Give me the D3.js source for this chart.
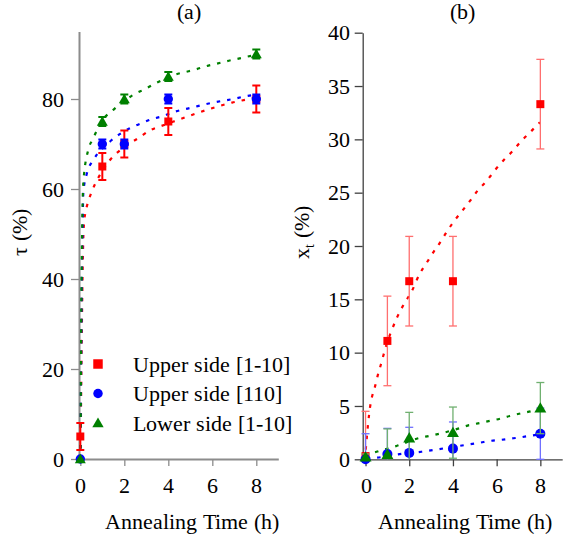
<!DOCTYPE html>
<html>
<head>
<meta charset="utf-8">
<style>
  @font-face { font-family: "RefSerif"; src: local("Liberation Serif"), local("LiberationSerif"), local("LiberationSerif-Regular"), local("Times New Roman"); }
</style>
<script src="https://cdn.jsdelivr.net/npm/d3@7"></script>
</head>
<body style="margin:0">
<script>
var width = 564;
var height = 539;
var serif = "RefSerif, 'Liberation Serif', 'Times New Roman'";

// measured points, annealing time in hours
var times = [0, 1, 2, 4, 8];

// panel (a): tau (%)
var tauRed = [5, 65, 70, 75, 80];
var tauRedErr = [3, 3, 3, 3, 3];
var tauBlue = [0, 70, 70, 80, 80];
var tauBlueErr = [0, 1, 1, 1, 1];
var tauGreen = [0, 75, 80, 85, 90];
var tauGreenErr = [0, 1, 1, 1, 1];

// panel (b): x_t (%)
var xtRed = [0.3, 11.1, 16.7, 16.7, 33.3];
var xtRedErr = [4.2, 4.2, 4.2, 4.2, 4.2];
var xtBlue = [0, 0.5, 0.6, 1.0, 2.4];
var xtBlueErr = [2.4, 2.4, 2.4, 2.5, 2.4];
var xtGreen = [0.2, 0.45, 2.0, 2.5, 4.8];
var xtGreenErr = [0.3, 2.4, 2.4, 2.4, 2.4];

// fit curves, [time, value]
var fitTauRed = [[0.01,0],[0.06,25],[0.1,40],[0.13,48],[0.17,52.5],[0.24,54.9],[0.36,57.2],[0.52,59.4],[1,64],[1.34,66.4],[2,69.3],[2.7,71.5],[3.15,73],[3.68,74],[4.59,75.6],[5.04,76.4],[5.95,77.9],[6.9,79.2],[7.75,80.1],[8,80.4]];
var fitTauBlue = [[0.01,0],[0.05,30],[0.1,50],[0.14,59.4],[0.3,63.5],[0.59,66.4],[1.34,70.5],[2.25,73.5],[2.78,74.6],[3.23,75.5],[3.76,76.2],[4.18,77],[4.63,77.6],[5.09,78.1],[5.57,78.7],[6.02,79.2],[6.47,79.6],[6.95,80],[7.4,80.5],[8,81]];
var fitTauGreen = [[0.01,0],[0.04,30],[0.08,50],[0.14,61.6],[0.36,68.7],[0.56,71],[1.04,75.5],[1.5,77.6],[2.4,80.9],[2.93,82.2],[3.43,83.5],[4.36,85.5],[4.78,86],[5.27,86.6],[5.72,87.3],[6.17,87.8],[6.65,88.4],[7.12,88.9],[7.57,89.4],[8,89.8]];
var fitXtRed = [[0.01,0.9],[0.06,2.1],[0.12,3.4],[0.2,4.8],[0.3,5.9],[0.43,6.8],[0.55,7.8],[0.69,8.8],[0.88,10.2],[1.42,13.2],[1.77,14.6],[2.1,15.7],[2.48,17.4],[2.79,18.4],[3.13,19.5],[3.4,20.3],[3.71,21.3],[4.04,22.3],[4.39,23.2],[4.77,24.2],[5.13,25.2],[5.54,26.1],[5.92,27.1],[6.3,28],[6.73,28.9],[7.11,29.8],[7.55,30.7],[7.98,31.6]];
var fitXtBlue = [[0.05,0.1],[0.5,0.15],[1.49,0.47],[2.56,0.71],[3.32,0.94],[4.28,1.25],[4.74,1.4],[5.23,1.56],[5.69,1.72],[6.15,1.81],[6.6,1.93],[7.09,2.06],[7.55,2.21],[8,2.35]];
var fitXtGreen = [[0.02,0.2],[0.12,0.4],[0.5,0.7],[1.42,1.25],[2.41,1.97],[2.94,2.2],[3.45,2.43],[4.28,2.9],[4.74,3.2],[5.23,3.4],[5.69,3.6],[6.15,3.8],[6.6,4.06],[7.09,4.3],[7.55,4.5],[8,4.75]];

var seriesNames = ["Upper side [1-10]", "Upper side [110]", "Lower side [1-10]"];
var colors = ["#ff0000", "#0000ff", "#008000"];
var lightColors = ["#ff6f6f", "#7070ff", "#70b070"];

var xTicksMajor = [0, 2, 4, 6, 8];
var xTicksMinor = [1, 3, 5, 7, 9];
var tauTicksMajor = [0, 20, 40, 60, 80];
var tauTicksMinor = [10, 30, 50, 70, 90];
var xtTicksMajor = [0, 5, 10, 15, 20, 25, 30, 35, 40];
var xtTicksMinor = [2.5, 7.5, 12.5, 17.5, 22.5, 27.5, 32.5, 37.5];

var svg = d3.select("body").append("svg").attr("width", width).attr("height", height);

var xa = d3.scaleLinear().domain([-0.06, 9]).range([79, 278.3]);
var ya = d3.scaleLinear().domain([0, 95]).range([459, 31.5]);
var xb = d3.scaleLinear().domain([-0.13, 9]).range([362.7, 562.2]);
var yb = d3.scaleLinear().domain([0, 40]).range([459.3, 32.7]);

var addText = function(x, y, str) {
  return svg.append("text").attr("x", x).attr("y", y).attr("font-size", 22)
    .style("font-family", serif).text(str);
};

var drawAxes = function(x, y, yMajor, yMinor, axisColor, axisWidth, yPad) {
  var g = svg.append("g");
  var bx = g.append("g").attr("transform", "translate(0," + y.range()[0] + ")");
  bx.call(d3.axisBottom(x).tickValues(xTicksMinor).tickSize(4.5).tickSizeOuter(0).tickFormat(""));
  bx.call(d3.axisBottom(x).tickValues(xTicksMajor).tickSize(7).tickSizeOuter(0).tickPadding(11.5));
  var ly = g.append("g").attr("transform", "translate(" + x.range()[0] + ",0)");
  ly.call(d3.axisLeft(y).tickValues(yMinor).tickSize(4.5).tickSizeOuter(0).tickFormat(""));
  ly.call(d3.axisLeft(y).tickValues(yMajor).tickSize(8).tickSizeOuter(0).tickPadding(yPad));
  g.selectAll("g").attr("font-family", null);
  g.selectAll("path.domain").attr("stroke", axisColor).attr("stroke-width", axisWidth);
  g.selectAll(".tick line").attr("stroke", axisColor).attr("stroke-width", 1.3);
  g.selectAll(".tick text").attr("font-size", 22).attr("fill", "#000").style("font-family", serif);
};

drawAxes(xa, ya, tauTicksMajor, tauTicksMinor, "#8c8c8c", 2, 7);
drawAxes(xb, yb, xtTicksMajor, xtTicksMinor, "#404040", 1.3, 5);

var drawPanel = function(x, y, fits, vals, errs, sizes, errStyle) {
  var line = d3.line().curve(d3.curveMonotoneX)
    .x(function(d) { return x(d[0]); })
    .y(function(d) { return y(d[1]); });
  fits.forEach(function(f, i) {
    svg.append("path").datum(f).attr("d", line)
      .attr("fill", "none").attr("stroke", colors[i])
      .attr("stroke-width", 2.2).attr("stroke-dasharray", "3.5,7");
  });
  var symbols = [d3.symbolSquare, d3.symbolCircle, d3.symbolTriangle];
  vals.forEach(function(v, i) {
    var pts = times.map(function(t, j) { return {t: t, v: v[j], e: errs[i][j]}; });
    var g = svg.append("g");
    var eb = g.selectAll("g.err").data(pts.filter(function(d) { return d.e > 0; })).enter().append("g")
      .attr("stroke", errStyle.light ? lightColors[i] : colors[i])
      .attr("stroke-width", errStyle.width);
    eb.append("line")
      .attr("x1", function(d) { return x(d.t); }).attr("x2", function(d) { return x(d.t); })
      .attr("y1", function(d) { return y(Math.max(0, d.v - d.e)); })
      .attr("y2", function(d) { return y(d.v + d.e); });
    eb.append("line")
      .attr("x1", function(d) { return x(d.t) - 4; }).attr("x2", function(d) { return x(d.t) + 4; })
      .attr("y1", function(d) { return y(d.v + d.e); }).attr("y2", function(d) { return y(d.v + d.e); });
    eb.filter(function(d) { return d.v - d.e >= 0; }).append("line")
      .attr("x1", function(d) { return x(d.t) - 4; }).attr("x2", function(d) { return x(d.t) + 4; })
      .attr("y1", function(d) { return y(d.v - d.e); }).attr("y2", function(d) { return y(d.v - d.e); });
    g.selectAll("path.pt").data(pts).enter().append("path")
      .attr("d", d3.symbol().type(symbols[i]).size(sizes[i]))
      .attr("transform", function(d) {
        var dy = i == 2 ? 1 : 0;
        return "translate(" + x(d.t) + "," + (y(d.v) + dy) + ")";
      })
      .attr("fill", colors[i]);
  });
};

drawPanel(xa, ya, [fitTauRed, fitTauBlue, fitTauGreen], [tauRed, tauBlue, tauGreen],
  [tauRedErr, tauBlueErr, tauGreenErr], [64, 69, 52], {light: false, width: 2});
drawPanel(xb, yb, [fitXtRed, fitXtBlue, fitXtGreen], [xtRed, xtBlue, xtGreen],
  [xtRedErr, xtBlueErr, xtGreenErr], [64, 79, 62], {light: true, width: 1.3});

// legend
var legendSymbols = [d3.symbolSquare, d3.symbolCircle, d3.symbolTriangle];
var legendSizes = [90, 70, 56];
seriesNames.forEach(function(name, i) {
  var ly = 364 + i * 29.5;
  svg.append("path").attr("d", d3.symbol().type(legendSymbols[i]).size(legendSizes[i]))
    .attr("transform", "translate(98," + (ly + (i == 2 ? 1 : 0)) + ")").attr("fill", colors[i]);
  addText(133, ly + 7.5, name);
});

// titles and axis labels
addText(188.5, 19, "(a)").attr("text-anchor", "middle");
addText(462.5, 19, "(b)").attr("text-anchor", "middle");
addText(191.5, 529, "Annealing Time (h)").attr("text-anchor", "middle");
addText(465, 529, "Annealing Time (h)").attr("text-anchor", "middle");
addText(0, 0, "τ (%)").attr("transform", "translate(27,232) rotate(-90)").attr("text-anchor", "middle");
var xtLabel = addText(0, 0, null).attr("transform", "translate(309,232) rotate(-90)").attr("text-anchor", "middle");
xtLabel.append("tspan").text("x");
xtLabel.append("tspan").attr("font-size", 14).attr("dy", 5).text("t");
xtLabel.append("tspan").attr("dy", -5).text(" (%)");
</script>
</body>
</html>
